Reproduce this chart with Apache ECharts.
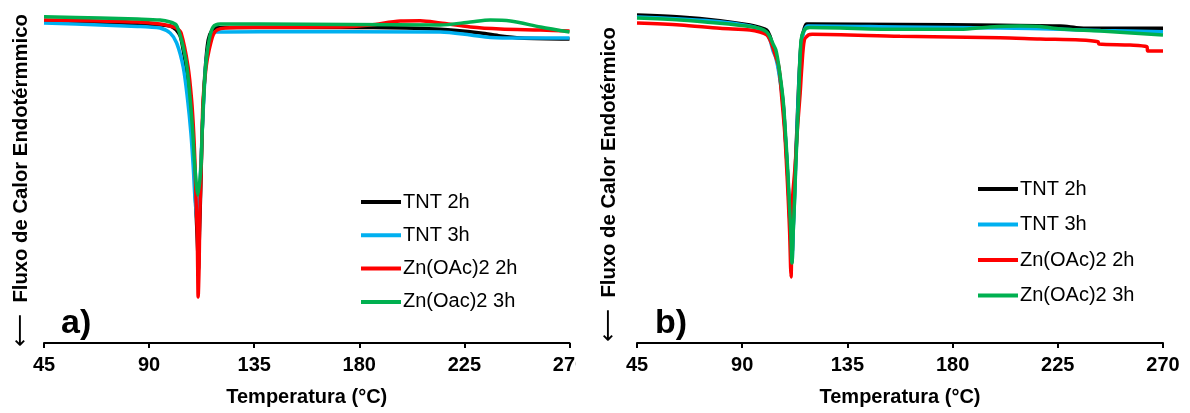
<!DOCTYPE html>
<html>
<head>
<meta charset="utf-8">
<script src="https://cdn.jsdelivr.net/npm/echarts@6/dist/echarts.min.js"></script>
<style>html,body{margin:0;padding:0;background:#fff}#c{width:1190px;height:413px}</style>
</head>
<body>
<div id="c"></div>
<script>
// x-axis ticks (°C)
const xMin = 45, xMax = 270, xStep = 45;
// Series names
const namesA = ['TNT 2h', 'TNT 3h', 'Zn(OAc)2 2h', 'Zn(Oac)2 3h'];
const namesB = ['TNT 2h', 'TNT 3h', 'Zn(OAc)2 2h', 'Zn(OAc)2 3h'];
const colors = ['#000000', '#00B0F0', '#FF0000', '#00B050'];

// Panel a) : [temperature °C, heat flow (arbitrary units)]
const a_tnt2h = [[45,322],[69,320.5],[85,319.5],[94.7,318],[99,317],[100.3,315.5],[101.6,313],[103.3,307],[104.6,293],[106.3,268],[107.8,233],[108.9,193],[109.9,143],[110.8,93],[111.1,73],[111.6,113],[112.1,153],[112.5,193],[113.1,233],[114,273],[115.3,303],[117,313],[118.7,315],[122.6,315.5],[137.6,315.5],[186,315.5],[214.7,313.7],[231.9,310],[240.4,307],[249,305],[270,304]];
const a_tnt3h = [[45,320],[69,318],[85,316.5],[90,316],[94.7,315],[99,310],[101.8,300],[104.6,276],[106.5,243],[107.9,210],[108.9,176],[109.7,143],[110.8,118],[111.4,143],[112.1,176],[112.7,210],[113.4,243],[114.2,276],[115.5,298],[117,308],[118.7,311],[137.6,311.3],[214.7,311],[227.6,308],[236.1,305.5],[249,305],[270,305]];
const a_zn2h = [[45,323],[69,322],[85,321],[94.7,319],[99,317],[101.6,315],[103.7,310],[106.7,276],[108.2,243],[109.1,210],[109.7,176],[110.1,143],[110.6,110],[110.8,76],[111,46],[111.4,76],[111.6,110],[111.9,143],[112.3,176],[112.7,210],[113.1,243],[114.4,276],[115.7,293],[117.4,308],[119.1,313],[122.6,315],[137.6,315.7],[171.9,316],[184.7,318],[197.6,322],[206.1,322.3],[214.7,320],[227.6,316],[240.4,314],[257.6,313],[270,312]];
const a_zn3h = [[45,326.3],[69,325],[85,324],[94.7,323],[99,321],[101.6,318],[103,310],[104.6,296],[106.2,276],[107.6,243],[108.7,210],[109.6,176],[110.9,148],[112.2,176],[112.7,210],[113.3,243],[114.2,276],[115.7,303],[117.4,316],[120.4,319],[137.6,319],[214.7,318],[227.6,321],[236.1,323],[244.7,322],[257.6,316],[270,311]];

// Panel b)
const b_tnt2h = [[45,328],[63.4,326],[80.5,322.3],[93.3,318],[97.6,315.5],[100.5,313],[101.9,307],[103.2,296],[104.4,288],[105.7,273],[107.5,240],[108.5,205],[109.4,170],[110.1,137],[110.8,100],[111.3,88],[111.8,115],[112.4,150],[112.9,185],[113.5,220],[114.1,255],[115.2,300],[116.6,315],[117.6,319],[119,319],[157.5,318.5],[200.3,317.7],[226,317],[234.5,315],[243.3,314.7],[270,314.7]];
const b_tnt3h = [[45,326],[63.4,324],[80.5,321.3],[93.3,317],[97.6,314],[100.5,310],[101.9,303],[103.2,292],[104.4,285],[105.7,270],[107.5,238],[108.5,204],[109.4,170],[110.1,137],[110.8,100],[111.3,81],[111.8,110],[112.4,145],[112.9,180],[113.5,215],[114.1,250],[115.2,298],[116.6,313],[118.3,317],[157.5,316],[200.3,315],[226,313.7],[243.3,312.5],[270,311.3]];
const b_zn2h = [[45,320],[63.4,318],[80.5,314.7],[93.3,313],[97.6,311],[100.5,308],[101.9,303],[103.2,295],[104.4,286],[105.7,276],[107,243],[108.2,210],[109,176],[109.7,143],[110.3,110],[110.7,76],[110.9,66],[111.2,100],[111.5,143],[112.6,176],[113.8,220],[114.8,250],[115.5,276],[116.6,303],[118.3,308],[119.9,308.7],[157.5,306.7],[200.3,305.3],[217.4,304],[234.5,303],[242.2,301.3],[242.6,299],[255.9,298],[263.1,296.3],[263.5,292],[270,292]];
const b_zn3h = [[45,325],[63.4,323],[80.5,319.7],[93.3,316.5],[97.6,314.5],[100.5,311],[101.9,306],[103.2,299],[104.4,293],[105.7,276.3],[107.5,243],[108.5,210],[109.4,176],[110.1,143],[110.8,110],[111.3,80],[111.8,110],[112.4,143],[112.9,176],[113.5,210],[114.1,243],[115.2,303],[116.6,313],[119,315.5],[157.5,313.7],[183.2,313.7],[196,316],[208.8,317],[217.4,316.5],[226,314],[243.3,312],[270,308]];

const seriesA = [a_tnt2h, a_tnt3h, a_zn2h, a_zn3h];
const seriesB = [b_tnt2h, b_tnt3h, b_zn2h, b_zn3h];

const FONT = '"Liberation Sans", Arial, sans-serif';

function xAx(gi) {
  return {
    gridIndex: gi, type: 'value', min: xMin, max: xMax, interval: xStep,
    axisLine: {show: true, onZero: false, lineStyle: {color: '#000', width: 2}},
    axisTick: {show: true, length: 5, lineStyle: {color: '#000', width: 2}},
    axisLabel: {color: '#000', fontWeight: 'bold', fontSize: 20, fontFamily: FONT, margin: 12},
    splitLine: {show: false},
    name: 'Temperatura (°C)', nameLocation: 'middle', nameGap: 44,
    nameTextStyle: {color: '#000', fontWeight: 'bold', fontSize: 20, fontFamily: FONT}
  };
}
function yAx(gi, label, gap, shift) {
  return {
    gridIndex: gi, type: 'value', min: 0, max: 333,
    axisLine: {show: false}, axisTick: {show: false}, axisLabel: {show: false}, splitLine: {show: false},
    name: '{arr|⟵}  ' + label, nameLocation: 'middle', nameRotate: 90, nameGap: gap,
    nameTextStyle: {color: '#000', fontWeight: 'bold', fontSize: 20.3, fontFamily: FONT, padding: [0, shift, 0, 0],
      rich: {arr: {fontFamily: '"DejaVu Sans"', fontWeight: 'normal', fontSize: 23, color: '#000'}}}
  };
}
function mkSeries(list, names, gi) {
  return list.map((d, i) => ({
    type: 'line', name: names[i], xAxisIndex: gi, yAxisIndex: gi, data: d,
    showSymbol: false, symbol: 'none', smooth: 0.3,
    lineStyle: {color: colors[i], width: 3.5}, itemStyle: {color: colors[i]},
    z: 2 + i, animation: false
  }));
}
function legend(names, left, top, gap) {
  return {
    data: names, orient: 'vertical', left: left, top: top, padding: 0, itemGap: gap,
    icon: 'rect', itemWidth: 40, itemHeight: 4, selectedMode: false,
    textStyle: {color: '#000', fontSize: 20, lineHeight: 20, fontFamily: FONT, padding: [0, 0, 0, -3]}
  };
}

const chart = echarts.init(document.getElementById('c'));
chart.setOption({
  animation: false,
  backgroundColor: '#fff',
  grid: [
    {left: 44, width: 525.5, top: 10, height: 333},
    {left: 637, width: 526, top: 10, height: 333}
  ],
  xAxis: [xAx(0), xAx(1)],
  yAxis: [yAx(0, 'Fluxo de Calor Endotérmmico', 11, 8), yAx(1, 'Fluxo de Calor Endotérmico', 16, 16)],
  legend: [legend(namesA, 361, 192, 13.3), legend(namesB, 978, 179, 15.5)],
  series: mkSeries(seriesA, namesA, 0).concat(mkSeries(seriesB, namesB, 1)),
  graphic: [
    {type: 'text', left: 61, top: 307, style: {text: 'a)', fontSize: 34, fontWeight: 'bold', fontFamily: FONT, fill: '#000'}},
    {type: 'text', left: 655, top: 307, style: {text: 'b)', fontSize: 34, fontWeight: 'bold', fontFamily: FONT, fill: '#000'}},
    {type: 'rect', shape: {x: 576, y: 350, width: 40, height: 30}, style: {fill: '#fff'}, z: 100}
  ]
});
</script>
</body>
</html>
